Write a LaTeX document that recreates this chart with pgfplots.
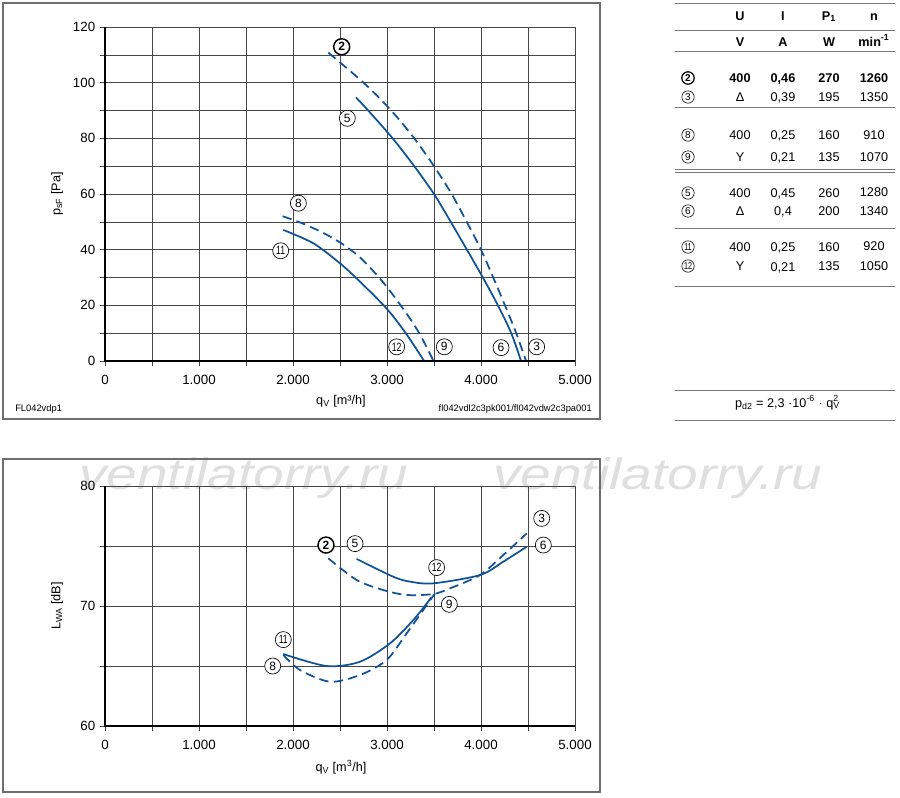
\documentclass[border=0pt]{standalone}
\usepackage{fontspec}
\setmainfont{Liberation Sans}
\usepackage{graphicx}
\usepackage{pgfplots}
\pgfplotsset{compat=1.18}
\definecolor{curve}{RGB}{16,82,150}
\definecolor{gridc}{RGB}{70,70,70}
\definecolor{framec}{RGB}{110,110,110}
\definecolor{tabline}{RGB}{120,120,120}
\newcommand\tf{\fontsize{9.5}{11}\selectfont}
\newcommand\sq[1]{\scalebox{0.72}[1]{#1}}
\tikzset{
  lbl/.style={circle, draw=black, line width=0.5pt, fill=white, inner sep=0pt, minimum size=12pt, font=\fontsize{9}{10}\selectfont},
  lblb/.style={lbl, line width=1.1pt, font=\fontsize{9}{10}\selectfont\bfseries},
  tc/.style={circle, draw=black, line width=0.45pt, inner sep=0pt, minimum size=9.3pt, font=\fontsize{7.5}{8}\selectfont},
  tcb/.style={tc, line width=0.9pt, font=\fontsize{7.5}{8}\selectfont\bfseries},
  tt/.style={anchor=base, inner sep=0pt, font=\tf},
  ttb/.style={anchor=base, inner sep=0pt, font=\tf\bfseries},
  wm/.style={anchor=base west, inner sep=0pt, font=\fontsize{33}{36}\selectfont\itshape, text=gray!25, xscale=1.25},
}
\pgfplotsset{
  fanaxis/.style={
    scale only axis, width=352.5pt, anchor=south west,
    xmin=0, xmax=5000,
    xtick={0,1000,2000,3000,4000,5000},
    xticklabels={0,1.000,2.000,3.000,4.000,5.000},
    minor xtick={500,1500,2500,3500,4500},
    grid=both,
    major grid style={draw=gridc, line width=0.5pt},
    minor grid style={draw=gridc, line width=0.5pt},
    axis line style={draw=gridc, line width=0.5pt},
    tick align=outside, tick pos=left,
    major tick length=3.5pt, minor tick length=3.5pt,
    tick style={draw=gridc, line width=0.5pt},
    ticklabel style={font=\fontsize{10}{12}\selectfont},
    xticklabel style={yshift=-3.5pt},
    yticklabel style={xshift=-0.3pt},
    /pgf/number format/assume math mode=true,
    scaled ticks=false,
    clip=false,
  },
  c/.style={draw=curve, line width=1.3pt, smooth, no marks},
  cd/.style={c, dash pattern=on 7pt off 4pt},
}
\begin{document}
\begin{tikzpicture}
\useasboundingbox (0,0) rectangle (675pt,-597.75pt);
\fill[white] (0,0) rectangle (675pt,-597.75pt);
\begin{scope}[x=0.75pt,y=-0.75pt]
% watermark (behind everything)
\node[wm] at (79,489) {ventilatorry.ru};
\node[wm] at (493,489) {ventilatorry.ru};
\draw[framec, line width=1pt] (3,3) rectangle (600,419);
\draw[framec, line width=1pt] (3,459) rectangle (600,792);
% table lines
\foreach \yy in {3,30.7,51.7,107.3,169.3,172,228.3,286.7,390.7,420}
  \draw[tabline, line width=0.7pt] (675,\yy) -- (895,\yy);
% header
\node[ttb] at (740,20) {U};
\node[ttb] at (783,20) {I};
\node[ttb] at (829,20) {P\textsubscript{1}};
\node[ttb] at (874,20) {n};
\node[ttb] at (740,46) {V};
\node[ttb] at (783,46) {A};
\node[ttb] at (829,46) {W};
\node[ttb] at (874,46) {min\textsuperscript{-1}};
% rows
\node[tcb] at (688,78) {2};
\node[ttb] at (740,82) {400};
\node[ttb] at (783,82) {0,46};
\node[ttb] at (829,82) {270};
\node[ttb] at (874,82) {1260};
\node[tc] at (688,97) {3};
\node[tt] at (740,101) {Δ};
\node[tt] at (783,101) {0,39};
\node[tt] at (829,101) {195};
\node[tt] at (874,101) {1350};
\node[tc] at (688,135) {8};
\node[tt] at (740,139) {400};
\node[tt] at (783,139) {0,25};
\node[tt] at (829,139) {160};
\node[tt] at (874,139) {910};
\node[tc] at (688,157) {9};
\node[tt] at (740,161) {Y};
\node[tt] at (783,161) {0,21};
\node[tt] at (829,161) {135};
\node[tt] at (874,161) {1070};
\node[tc] at (688,193) {5};
\node[tt] at (740,197) {400};
\node[tt] at (783,197) {0,45};
\node[tt] at (829,197) {260};
\node[tt] at (874,196) {1280};
\node[tc] at (688,211) {6};
\node[tt] at (740,215) {Δ};
\node[tt] at (783,215) {0,4};
\node[tt] at (829,215) {200};
\node[tt] at (874,215) {1340};
\node[tc] at (688,247) {\sq{11}};
\node[tt] at (740,251) {400};
\node[tt] at (783,251) {0,25};
\node[tt] at (829,251) {160};
\node[tt] at (874,250) {920};
\node[tc] at (688,266) {\sq{12}};
\node[tt] at (740,270) {Y};
\node[tt] at (783,271) {0,21};
\node[tt] at (829,270) {135};
\node[tt] at (874,270) {1050};
\node[tt] at (787,407) {p\textsubscript{d2} = 2,3 ·10\textsuperscript{-6} · q\rlap{\textsubscript{V}}\textsuperscript{2}};
% axis labels and footers
\node[rotate=90, inner sep=0pt, font=\fontsize{9.5}{11}\selectfont] at (57,194) {p\textsubscript{sF} [Pa]};
\node[inner sep=0pt, font=\fontsize{9.5}{11}\selectfont] at (341,401) {q\textsubscript{V} [m³/h]};
\node[rotate=90, inner sep=0pt, font=\fontsize{9.5}{11}\selectfont] at (57,606) {L\textsubscript{WA} [dB]};
\node[inner sep=0pt, font=\fontsize{9.5}{11}\selectfont] at (341,767) {q\textsubscript{V} [m\textsuperscript{3}/h]};
\node[anchor=base west, inner sep=0pt, font=\fontsize{7}{8}\selectfont] at (15,411) {FL042vdp1};
\node[anchor=base east, inner sep=0pt, font=\fontsize{7}{8}\selectfont] at (592,411) {fl042vdl2c3pk001/fl042vdw2c3pa001};
\end{scope}

\begin{axis}[fanaxis, at={(78.75pt,-270.75pt)}, height=250.5pt,
  ymin=0, ymax=120, ytick={0,20,...,120}, minor ytick={10,30,...,110}]
\addplot[cd] coordinates {(2376,110.8) (2750,100) (3045,90) (3290,80) (3500,70) (3688,60) (3848,50) (4000,40) (4130,30) (4255,20) (4375,10) (4479,0)};
\addplot[c] coordinates {(2670,94.7) (2800,90) (3060,80) (3290,70) (3500,60) (3678,50) (3850,40) (4020,30) (4180,20) (4322,10) (4426,0)};
\addplot[cd] coordinates {(1890,52) (2074,49.8) (2300,46.4) (2500,42.6) (2713,37.2) (2961,28.2) (3209,17) (3351,9.5) (3495,0)};
\addplot[c] coordinates {(1897,47.1) (2216,42.3) (2500,35.1) (2713,28.5) (2997,18.8) (3200,10) (3395,0)};
\draw[black, line width=1.1pt] (axis cs:0,120) -- (axis cs:0,0) -- (axis cs:5000,0);
\node[lblb] at (axis cs:2518,112.9) {2};
\node[lbl] at (axis cs:2578,87.2) {5};
\node[lbl] at (axis cs:2057,56.7) {8};
\node[lbl] at (axis cs:1869,39.6) {\sq{11}};
\node[lbl] at (axis cs:3103,5.1) {\sq{12}};
\node[lbl] at (axis cs:3610,5.1) {9};
\node[lbl] at (axis cs:4213,4.8) {6};
\node[lbl] at (axis cs:4592,5.1) {3};
\end{axis}

\begin{axis}[fanaxis, at={(78.75pt,-544.5pt)}, height=180pt,
  ymin=60, ymax=80, ytick={60,70,80}, minor ytick={65,75}]
\addplot[cd] coordinates {(2376,73.97) (2677,72.17) (2961,71.33) (3209,70.92) (3493,71.0) (3670,71.47) (3989,72.58) (4238,74.25) (4486,76.05)};
\addplot[c] coordinates {(2677,73.92) (3067,72.44) (3245,72.03) (3493,71.89) (3989,72.58) (4238,73.7) (4486,74.94)};
\addplot[cd] coordinates {(1897,65.92) (2074,64.67) (2394,63.69) (2713,64.25) (2996,65.5) (3209,67.72) (3511,71.06)};
\addplot[c] coordinates {(1897,66.0) (2358,65.0) (2713,65.36) (3032,66.89) (3280,68.83) (3470,70.7)};
\draw[black, line width=1.1pt] (axis cs:0,80) -- (axis cs:0,60) -- (axis cs:5000,60);
\node[lbl] at (axis cs:4646,77.3) {3};
\node[lbl] at (axis cs:4663,75.08) {6};
\node[lblb] at (axis cs:2351,75.08) {2};
\node[lbl] at (axis cs:2660,75.2) {5};
\node[lbl] at (axis cs:3528,73.2) {\sq{12}};
\node[lbl] at (axis cs:3663,70.14) {9};
\node[lbl] at (axis cs:1897,67.2) {\sq{11}};
\node[lbl] at (axis cs:1784,65.0) {8};
\end{axis}
\end{tikzpicture}
\end{document}
